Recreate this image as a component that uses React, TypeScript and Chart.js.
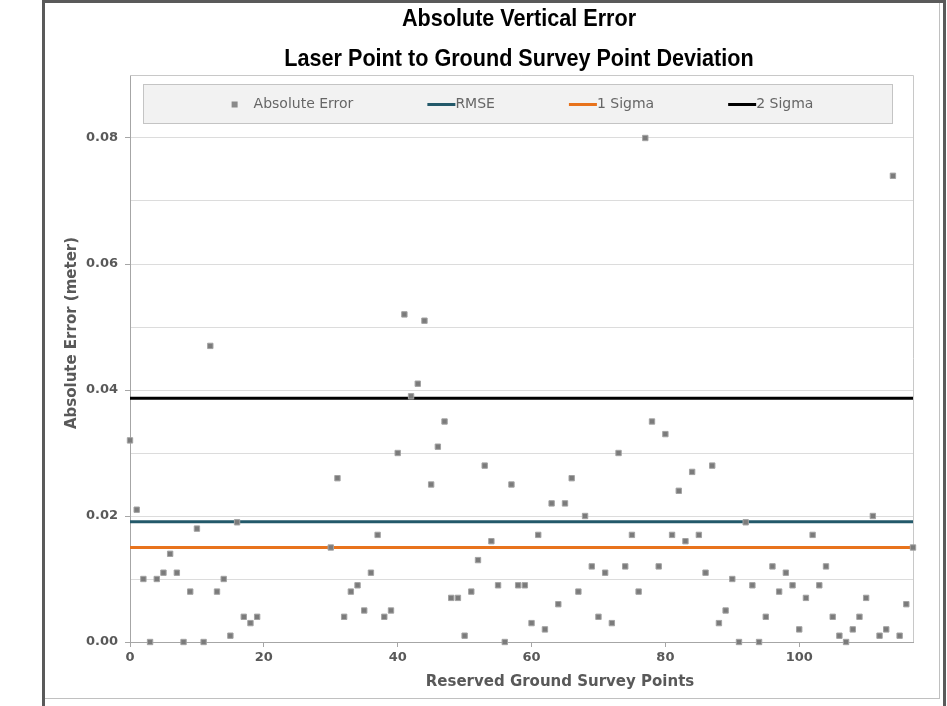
import React, { useEffect, useRef } from "react";
import { Chart, registerables } from "chart.js";

Chart.register(...registerables);

// ---------- data ----------
const pointIds: number[] = [
  0, 1, 2, 3, 4, 5, 6, 7, 8, 9, 10, 11, 12, 13, 14, 15, 16, 17, 18, 19,
  30, 31, 32, 33, 34, 35, 36, 37, 38, 39, 40, 41, 42, 43, 44, 45, 46, 47, 48, 49,
  50, 51, 52, 53, 54, 55, 56, 57, 58, 59, 60, 61, 62, 63, 64, 65, 66, 67, 68, 69,
  70, 71, 72, 73, 74, 75, 76, 77, 78, 79, 80, 81, 82, 83, 84, 85, 86, 87, 88, 89,
  90, 91, 92, 93, 94, 95, 96, 97, 98, 99, 100, 101, 102, 103, 104, 105, 106, 107, 108, 109,
  110, 111, 112, 113, 114, 115, 116, 117,
];

const absoluteErrors: number[] = [
  0.032, 0.021, 0.010, 0.000, 0.010, 0.011, 0.014, 0.011, 0.000, 0.008,
  0.018, 0.000, 0.047, 0.008, 0.010, 0.001, 0.019, 0.004, 0.003, 0.004,
  0.015, 0.026, 0.004, 0.008, 0.009, 0.005, 0.011, 0.017, 0.004, 0.005,
  0.030, 0.052, 0.039, 0.041, 0.051, 0.025, 0.031, 0.035, 0.007, 0.007,
  0.001, 0.008, 0.013, 0.028, 0.016, 0.009, 0.000, 0.025, 0.009, 0.009,
  0.003, 0.017, 0.002, 0.022, 0.006, 0.022, 0.026, 0.008, 0.020, 0.012,
  0.004, 0.011, 0.003, 0.030, 0.012, 0.017, 0.008, 0.080, 0.035, 0.012,
  0.033, 0.017, 0.024, 0.016, 0.027, 0.017, 0.011, 0.028, 0.003, 0.005,
  0.010, 0.000, 0.019, 0.009, 0.000, 0.004, 0.012, 0.008, 0.011, 0.009,
  0.002, 0.007, 0.017, 0.009, 0.012, 0.004, 0.001, 0.000, 0.002, 0.004,
  0.007, 0.020, 0.001, 0.002, 0.074, 0.001, 0.006, 0.015,
];

const lineXs: number[] = [0, 117];
const rmseValues: number[] = [0.0191, 0.0191];
const sigma1Values: number[] = [0.015, 0.015];
const sigma2Values: number[] = [0.0387, 0.0387];

const seriesLabels: string[] = ["Absolute Error", "RMSE", "1 Sigma", "2 Sigma"];
const seriesColors: string[] = ["#808080", "#23596a", "#e8731c", "#000000"];

const yRange: number[] = [0, 0.09];
const yStep = 0.01;
const xRange: number[] = [0, 117];
const xStep = 20;

const titleLines: string[] = [
  "Absolute Vertical Error",
  "Laser Point to Ground Survey Point Deviation",
];
const xTitle = "Reserved Ground Survey Points";
const yTitle = "Absolute Error (meter)";

const AXIS_FONT = "'DejaVu Sans', 'Liberation Sans', sans-serif";
const TITLE_FONT = "'Liberation Sans', Arial, sans-serif";

const overlayPlugin = {
  id: "overlay",
  beforeDatasetsDraw(chart: any) {
    const { ctx, chartArea: a } = chart;
    ctx.save();
    ctx.strokeStyle = "#c8c8c8";
    ctx.lineWidth = 1;
    ctx.beginPath();
    ctx.moveTo(a.left, a.top + 0.5);
    ctx.lineTo(a.right + 0.5, a.top + 0.5);
    ctx.lineTo(a.right + 0.5, a.bottom);
    ctx.stroke();
    ctx.restore();
  },
  afterDraw(chart: any) {
    const { ctx, chartArea: a } = chart;
    ctx.save();
    // Titles (condensed look)
    ctx.fillStyle = "#000";
    ctx.textAlign = "center";
    ctx.textBaseline = "middle";
    ctx.font = `bold 24px ${TITLE_FONT}`;
    const tcx = 519;
    const sx = 0.9;
    ctx.save();
    ctx.scale(sx, 1);
    ctx.fillText(titleLines[0], tcx / sx, 19);
    ctx.fillText(titleLines[1], tcx / sx, 59);
    ctx.restore();

    // Axis titles
    ctx.fillStyle = "#595959";
    ctx.font = `bold 15px ${AXIS_FONT}`;
    ctx.fillText(xTitle, 560, 682);
    ctx.save();
    ctx.translate(72, 333);
    ctx.rotate(-Math.PI / 2);
    ctx.fillText(yTitle, 0, 0);
    ctx.restore();

    // Legend box
    const bx = a.left + 13;
    const bw = a.right - 21 - bx;
    const by = a.top + 9;
    const bh = 39;
    ctx.fillStyle = "#f2f2f2";
    ctx.fillRect(bx, by, bw, bh);
    ctx.strokeStyle = "#c4c4c4";
    ctx.lineWidth = 1;
    ctx.strokeRect(bx + 0.5, by + 0.5, bw, bh);

    ctx.font = `14px ${AXIS_FONT}`;
    const gap = 74;
    const datasets = chart.data.datasets;
    const widths = datasets.map((ds: any, i: number) => {
      const tw = ctx.measureText(ds.label).width;
      return (i === 0 ? 22 : 28) + tw;
    });
    const total = widths.reduce((s: number, w: number) => s + w, 0) + gap * (widths.length - 1);
    let x = (a.left + a.right) / 2 + 1 - total / 2;
    const cy = by + bh / 2 + 1;
    ctx.textAlign = "left";
    datasets.forEach((ds: any, i: number) => {
      if (i === 0) {
        ctx.fillStyle = "#8a8a8a";
        ctx.fillRect(x, cy - 3, 6, 6);
        ctx.fillStyle = "#666666";
        ctx.fillText(ds.label, x + 22, cy);
      } else {
        ctx.strokeStyle = ds.borderColor;
        ctx.lineWidth = 3;
        ctx.beginPath();
        ctx.moveTo(x, cy);
        ctx.lineTo(x + 28, cy);
        ctx.stroke();
        ctx.fillStyle = "#666666";
        ctx.fillText(ds.label, x + 28, cy);
      }
      x += widths[i] + gap;
    });
    ctx.restore();
  },
};

export default function App() {
  const canvasRef = useRef<HTMLCanvasElement | null>(null);

  useEffect(() => {
    if (!canvasRef.current) return;
    const mkLine = (vals: number[]) => lineXs.map((x, i) => ({ x, y: vals[i] }));
    const chart = new Chart(canvasRef.current, {
      type: "scatter",
      data: {
        datasets: [
          {
            label: seriesLabels[0],
            data: pointIds.map((x, i) => ({ x, y: absoluteErrors[i] })),
            pointStyle: "rect",
            pointRadius: 3.8,
            backgroundColor: "#7b7b7b",
            borderColor: "#a3a3a3",
            borderWidth: 1,
            clip: false,
          } as any,
          {
            label: seriesLabels[1],
            data: mkLine(rmseValues),
            showLine: true,
            borderColor: seriesColors[1],
            borderWidth: 3,
            pointRadius: 0,
            clip: false,
          },
          {
            label: seriesLabels[2],
            data: mkLine(sigma1Values),
            showLine: true,
            borderColor: seriesColors[2],
            borderWidth: 3,
            pointRadius: 0,
            clip: false,
          },
          {
            label: seriesLabels[3],
            data: mkLine(sigma2Values),
            showLine: true,
            borderColor: seriesColors[3],
            borderWidth: 3,
            pointRadius: 0,
            clip: false,
          },
        ],
      },
      options: {
        responsive: false,
        animation: false,
        events: [],
        layout: { padding: { left: 43, right: 34, top: 75, bottom: 0 } },
        plugins: {
          legend: { display: false },
          title: { display: false },
          tooltip: { enabled: false },
        },
        scales: {
          x: {
            type: "linear",
            min: xRange[0],
            max: xRange[1],
            afterFit: (s: any) => {
              s.height = 64;
            },
            ticks: {
              stepSize: xStep,
              includeBounds: false,
              maxRotation: 0,
              padding: 3,
              color: "#595959",
              font: { family: AXIS_FONT, size: 13, weight: "bold" },
            },
            grid: {
              drawOnChartArea: false,
              drawTicks: true,
              tickLength: 5,
              color: "#a6a6a6",
            },
            border: { color: "#a6a6a6", width: 1 },
          },
          y: {
            type: "linear",
            min: yRange[0],
            max: yRange[1],
            afterFit: (s: any) => {
              s.width = 87;
            },
            ticks: {
              stepSize: yStep,
              autoSkip: false,
              padding: 7,
              color: "#595959",
              font: { family: AXIS_FONT, size: 13, weight: "bold" },
              callback: (v: any) => {
                const n = Math.round(Number(v) * 100);
                return n % 2 === 0 ? Number(v).toFixed(2) : "";
              },
            },
            grid: {
              color: "#dcdcdc",
              tickLength: 5,
              tickColor: (c: any) => {
                const n = Math.round(Number(c.tick?.value) * 100);
                return n % 2 === 0 ? "#a6a6a6" : "rgba(0,0,0,0)";
              },
            },
            border: { color: "#a6a6a6", width: 1 },
          },
        },
      },
      plugins: [overlayPlugin],
    });
    return () => chart.destroy();
  }, []);

  return (
    <div style={{ position: "absolute", left: 0, top: 0, width: 947, height: 706, background: "#fff", overflow: "hidden" }}>
      <div
        style={{
          position: "absolute",
          left: 42,
          top: 0,
          width: 898,
          height: 720,
          borderLeft: "3px solid #5a5a5a",
          borderRight: "3px solid #5a5a5a",
          borderTop: "3px solid #5a5a5a",
        }}
      />
      <div
        style={{
          position: "absolute",
          left: 45,
          top: 3,
          width: 894,
          height: 695,
          border: "1px solid #c0c0c0",
          borderLeft: "none",
          borderTop: "none",
        }}
      />
      <canvas
        ref={canvasRef}
        width={947}
        height={706}
        style={{ position: "absolute", left: 0, top: 0, width: 947, height: 706 }}
      />
    </div>
  );
}
